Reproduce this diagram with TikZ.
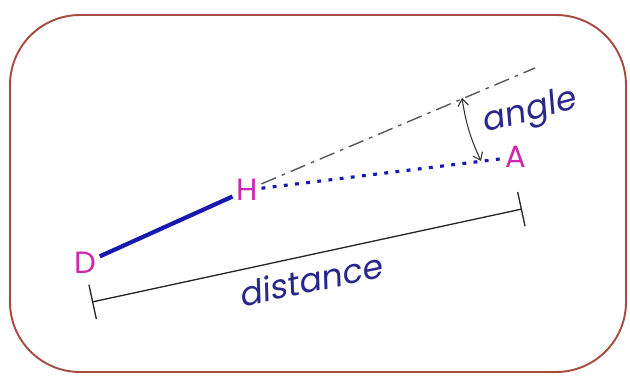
\documentclass[tikz,border=0pt]{standalone}
\usepackage{fontspec}
\setmainfont{Poppins}
\newfontfamily\lblfont[FakeSlant=0.18]{Poppins}
\usepackage{xcolor}
\usetikzlibrary{arrows.meta,positioning}
\definecolor{framered}{RGB}{165,75,65}
\definecolor{bondblue}{RGB}{25,25,175}
\definecolor{atompink}{RGB}{205,40,175}
\definecolor{labelblue}{RGB}{40,40,140}
\tikzset{
  atom/.style={text=atompink,inner sep=2pt,font=\fontsize{17.5}{19}\selectfont},
  lbl/.style={text=labelblue,inner sep=0pt,font=\lblfont\fontsize{19}{21}\selectfont},
  bond/.style={bondblue,line width=2.4pt},
  hbond/.style={bondblue,line width=1.8pt,dash pattern=on 2.2pt off 4.2pt},
  axis/.style={gray!70!black,line width=0.8pt,dash pattern=on 9pt off 3.5pt on 2pt off 3.5pt}
}

\begin{document}
\begin{tikzpicture}[x=0.02cm,y=-0.02cm,>=Stealth]
\useasboundingbox (0,0) rectangle (630,376);
\draw[framered,line width=1.1pt,rounded corners=1.4cm](10,15) rectangle (626,372);
% atoms
\node[atom] (D) at (85,263) {D};
\node[atom] (H) at (247,190) {H};
\node[atom] (A) at (516,157) {A};
% bonds
\draw[bond] (D) -- (H);
\draw[hbond] (H) -- (A);
\coordinate (tip) at (535,68);
\draw[axis] (H) -- (tip);
% angle
\coordinate (up) at (462,98);
\coordinate (lo) at (481,161);
\draw[{Straight Barb[length=4pt,width=6pt]}-{Straight Barb[length=4pt,width=6pt]},line width=0.6pt,gray!40!black] (up) to[bend right=8] (lo);
\node[lbl,rotate=15] (ang) at (529,113) {angle};
% distance
\coordinate (dl) at (92,302);
\coordinate (dr) at (522,209);
\draw[{Bar[width=20pt]}-{Bar[width=20pt]},line width=0.75pt,black!85] (dl) -- (dr);
\node[lbl,rotate=12] (dist) at (310,280) {distance};
\end{tikzpicture}
\end{document}
